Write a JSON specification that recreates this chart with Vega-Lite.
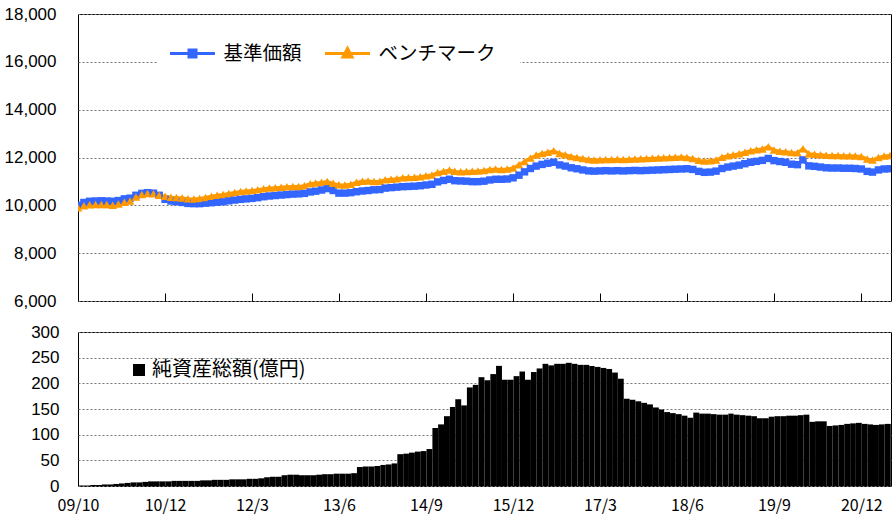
{
  "$schema": "https://vega.github.io/schema/vega-lite/v6.json",
  "background": "white",
  "padding": {"left": 3, "top": 4, "right": 0, "bottom": 0},
  "spacing": 12,
  "data": {"values": [
    {"d":"2009/10/01","基準価額":10000,"ベンチマーク":9900,"純資産総額":1},
    {"d":"2009/11/01","基準価額":10120,"ベンチマーク":9980,"純資産総額":1},
    {"d":"2009/12/01","基準価額":10170,"ベンチマーク":10020,"純資産総額":2},
    {"d":"2010/01/01","基準価額":10180,"ベンチマーク":10030,"純資産総額":2},
    {"d":"2010/02/01","基準価額":10190,"ベンチマーク":10040,"純資産総額":3},
    {"d":"2010/03/01","基準価額":10180,"ベンチマーク":10030,"純資産総額":3},
    {"d":"2010/04/01","基準価額":10170,"ベンチマーク":10000,"純資産総額":4},
    {"d":"2010/05/01","基準価額":10200,"ベンチマーク":10060,"純資産総額":5},
    {"d":"2010/06/01","基準価額":10270,"ベンチマーク":10130,"純資産総額":6},
    {"d":"2010/07/01","基準価額":10300,"ベンチマーク":10180,"純資産総額":7},
    {"d":"2010/08/01","基準価額":10420,"ベンチマーク":10350,"純資産総額":7},
    {"d":"2010/09/01","基準価額":10500,"ベンチマーク":10450,"純資産総額":8},
    {"d":"2010/10/01","基準価額":10530,"ベンチマーク":10490,"純資産総額":9},
    {"d":"2010/11/01","基準価額":10510,"ベンチマーク":10480,"純資産総額":9},
    {"d":"2010/12/01","基準価額":10420,"ベンチマーク":10420,"純資産総額":9},
    {"d":"2011/01/01","基準価額":10250,"ベンチマーク":10380,"純資産総額":9},
    {"d":"2011/02/01","基準価額":10180,"ベンチマーク":10340,"純資産総額":10},
    {"d":"2011/03/01","基準価額":10150,"ベンチマーク":10330,"純資産総額":10},
    {"d":"2011/04/01","基準価額":10120,"ベンチマーク":10310,"純資産総額":10},
    {"d":"2011/05/01","基準価額":10080,"ベンチマーク":10280,"純資産総額":10},
    {"d":"2011/06/01","基準価額":10070,"ベンチマーク":10270,"純資産総額":10},
    {"d":"2011/07/01","基準価額":10070,"ベンチマーク":10290,"純資産総額":11},
    {"d":"2011/08/01","基準価額":10090,"ベンチマーク":10330,"純資産総額":11},
    {"d":"2011/09/01","基準価額":10110,"ベンチマーク":10380,"純資産総額":12},
    {"d":"2011/10/01","基準価額":10130,"ベンチマーク":10420,"純資産総額":12},
    {"d":"2011/11/01","基準価額":10150,"ベンチマーク":10450,"純資産総額":12},
    {"d":"2011/12/01","基準価額":10190,"ベンチマーク":10500,"純資産総額":13},
    {"d":"2012/01/01","基準価額":10220,"ベンチマーク":10540,"純資産総額":13},
    {"d":"2012/02/01","基準価額":10250,"ベンチマーク":10580,"純資産総額":13},
    {"d":"2012/03/01","基準価額":10270,"ベンチマーク":10600,"純資産総額":14},
    {"d":"2012/04/01","基準価額":10290,"ベンチマーク":10620,"純資産総額":14},
    {"d":"2012/05/01","基準価額":10320,"ベンチマーク":10650,"純資産総額":15},
    {"d":"2012/06/01","基準価額":10360,"ベンチマーク":10690,"純資産総額":17},
    {"d":"2012/07/01","基準価額":10390,"ベンチマーク":10720,"純資産総額":18},
    {"d":"2012/08/01","基準価額":10410,"ベンチマーク":10740,"純資産総額":18},
    {"d":"2012/09/01","基準価額":10430,"ベンチマーク":10760,"純資産総額":21},
    {"d":"2012/10/01","基準価額":10450,"ベンチマーク":10780,"純資産総額":22},
    {"d":"2012/11/01","基準価額":10470,"ベンチマーク":10790,"純資産総額":22},
    {"d":"2012/12/01","基準価額":10480,"ベンチマーク":10790,"純資産総額":21},
    {"d":"2013/01/01","基準価額":10500,"ベンチマーク":10820,"純資産総額":21},
    {"d":"2013/02/01","基準価額":10560,"ベンチマーク":10900,"純資産総額":21},
    {"d":"2013/03/01","基準価額":10590,"ベンチマーク":10930,"純資産総額":22},
    {"d":"2013/04/01","基準価額":10640,"ベンチマーク":10960,"純資産総額":23},
    {"d":"2013/05/01","基準価額":10700,"ベンチマーク":11000,"純資産総額":23},
    {"d":"2013/06/01","基準価額":10620,"ベンチマーク":10920,"純資産総額":24},
    {"d":"2013/07/01","基準価額":10510,"ベンチマーク":10860,"純資産総額":24},
    {"d":"2013/08/01","基準価額":10510,"ベンチマーク":10850,"純資産総額":24},
    {"d":"2013/09/01","基準価額":10530,"ベンチマーク":10880,"純資産総額":25},
    {"d":"2013/10/01","基準価額":10570,"ベンチマーク":10960,"純資産総額":37},
    {"d":"2013/11/01","基準価額":10600,"ベンチマーク":11010,"純資産総額":38},
    {"d":"2013/12/01","基準価額":10620,"ベンチマーク":11020,"純資産総額":38},
    {"d":"2014/01/01","基準価額":10650,"ベンチマーク":11000,"純資産総額":39},
    {"d":"2014/02/01","基準価額":10660,"ベンチマーク":11010,"純資産総額":41},
    {"d":"2014/03/01","基準価額":10720,"ベンチマーク":11070,"純資産総額":42},
    {"d":"2014/04/01","基準価額":10740,"ベンチマーク":11090,"純資産総額":44},
    {"d":"2014/05/01","基準価額":10760,"ベンチマーク":11110,"純資産総額":62},
    {"d":"2014/06/01","基準価額":10780,"ベンチマーク":11150,"純資産総額":63},
    {"d":"2014/07/01","基準価額":10790,"ベンチマーク":11160,"純資産総額":65},
    {"d":"2014/08/01","基準価額":10800,"ベンチマーク":11170,"純資産総額":67},
    {"d":"2014/09/01","基準価額":10820,"ベンチマーク":11200,"純資産総額":68},
    {"d":"2014/10/01","基準価額":10850,"ベンチマーク":11240,"純資産総額":72},
    {"d":"2014/11/01","基準価額":10880,"ベンチマーク":11270,"純資産総額":113},
    {"d":"2014/12/01","基準価額":10980,"ベンチマーク":11370,"純資産総額":120},
    {"d":"2015/01/01","基準価額":11040,"ベンチマーク":11420,"純資産総額":136},
    {"d":"2015/02/01","基準価額":11090,"ベンチマーク":11475,"純資産総額":154},
    {"d":"2015/03/01","基準価額":11030,"ベンチマーク":11420,"純資産総額":169},
    {"d":"2015/04/01","基準価額":11020,"ベンチマーク":11400,"純資産総額":157},
    {"d":"2015/05/01","基準価額":11010,"ベンチマーク":11410,"純資産総額":192},
    {"d":"2015/06/01","基準価額":10990,"ベンチマーク":11430,"純資産総額":197},
    {"d":"2015/07/01","基準価額":10990,"ベンチマーク":11440,"純資産総額":212},
    {"d":"2015/08/01","基準価額":11010,"ベンチマーク":11460,"純資産総額":206},
    {"d":"2015/09/01","基準価額":11060,"ベンチマーク":11500,"純資産総額":218},
    {"d":"2015/10/01","基準価額":11090,"ベンチマーク":11520,"純資産総額":234},
    {"d":"2015/11/01","基準価額":11090,"ベンチマーク":11500,"純資産総額":207},
    {"d":"2015/12/01","基準価額":11100,"ベンチマーク":11520,"純資産総額":207},
    {"d":"2016/01/01","基準価額":11150,"ベンチマーク":11560,"純資産総額":214},
    {"d":"2016/02/01","基準価額":11260,"ベンチマーク":11700,"純資産総額":223},
    {"d":"2016/03/01","基準価額":11400,"ベンチマーク":11830,"純資産総額":207},
    {"d":"2016/04/01","基準価額":11540,"ベンチマーク":11980,"純資産総額":222},
    {"d":"2016/05/01","基準価額":11640,"ベンチマーク":12100,"純資産総額":229},
    {"d":"2016/06/01","基準価額":11710,"ベンチマーク":12170,"純資産総額":238},
    {"d":"2016/07/01","基準価額":11760,"ベンチマーク":12220,"純資産総額":235},
    {"d":"2016/08/01","基準価額":11800,"ベンチマーク":12280,"純資産総額":238},
    {"d":"2016/09/01","基準価額":11690,"ベンチマーク":12170,"純資産総額":238},
    {"d":"2016/10/01","基準価額":11640,"ベンチマーク":12120,"純資産総額":240},
    {"d":"2016/11/01","基準価額":11570,"ベンチマーク":12040,"純資産総額":238},
    {"d":"2016/12/01","基準価額":11530,"ベンチマーク":12000,"純資産総額":236},
    {"d":"2017/01/01","基準価額":11480,"ベンチマーク":11960,"純資産総額":236},
    {"d":"2017/02/01","基準価額":11440,"ベンチマーク":11920,"純資産総額":234},
    {"d":"2017/03/01","基準価額":11430,"ベンチマーク":11900,"純資産総額":232},
    {"d":"2017/04/01","基準価額":11440,"ベンチマーク":11910,"純資産総額":230},
    {"d":"2017/05/01","基準価額":11450,"ベンチマーク":11920,"純資産総額":228},
    {"d":"2017/06/01","基準価額":11440,"ベンチマーク":11920,"純資産総額":221},
    {"d":"2017/07/01","基準価額":11450,"ベンチマーク":11930,"純資産総額":209},
    {"d":"2017/08/01","基準価額":11440,"ベンチマーク":11920,"純資産総額":170},
    {"d":"2017/09/01","基準価額":11450,"ベンチマーク":11930,"純資産総額":168},
    {"d":"2017/10/01","基準価額":11460,"ベンチマーク":11940,"純資産総額":165},
    {"d":"2017/11/01","基準価額":11450,"ベンチマーク":11950,"純資産総額":162},
    {"d":"2017/12/01","基準価額":11460,"ベンチマーク":11960,"純資産総額":159},
    {"d":"2018/01/01","基準価額":11470,"ベンチマーク":11970,"純資産総額":153},
    {"d":"2018/02/01","基準価額":11480,"ベンチマーク":11980,"純資産総額":149},
    {"d":"2018/03/01","基準価額":11490,"ベンチマーク":11990,"純資産総額":144},
    {"d":"2018/04/01","基準価額":11500,"ベンチマーク":12000,"純資産総額":142},
    {"d":"2018/05/01","基準価額":11510,"ベンチマーク":12010,"純資産総額":140},
    {"d":"2018/06/01","基準価額":11520,"ベンチマーク":12020,"純資産総額":137},
    {"d":"2018/07/01","基準価額":11530,"ベンチマーク":12000,"純資産総額":133},
    {"d":"2018/08/01","基準価額":11500,"ベンチマーク":11960,"純資産総額":143},
    {"d":"2018/09/01","基準価額":11420,"ベンチマーク":11880,"純資産総額":141},
    {"d":"2018/10/01","基準価額":11380,"ベンチマーク":11850,"純資産総額":141},
    {"d":"2018/11/01","基準価額":11390,"ベンチマーク":11860,"純資産総額":140},
    {"d":"2018/12/01","基準価額":11430,"ベンチマーク":11900,"純資産総額":139},
    {"d":"2019/01/01","基準価額":11540,"ベンチマーク":12010,"純資産総額":139},
    {"d":"2019/02/01","基準価額":11600,"ベンチマーク":12070,"純資産総額":141},
    {"d":"2019/03/01","基準価額":11640,"ベンチマーク":12110,"純資産総額":139},
    {"d":"2019/04/01","基準価額":11680,"ベンチマーク":12160,"純資産総額":138},
    {"d":"2019/05/01","基準価額":11740,"ベンチマーク":12220,"純資産総額":137},
    {"d":"2019/06/01","基準価額":11800,"ベンチマーク":12280,"純資産総額":136},
    {"d":"2019/07/01","基準価額":11840,"ベンチマーク":12320,"純資産総額":132},
    {"d":"2019/08/01","基準価額":11880,"ベンチマーク":12360,"純資産総額":132},
    {"d":"2019/09/01","基準価額":11960,"ベンチマーク":12450,"純資産総額":135},
    {"d":"2019/10/01","基準価額":11870,"ベンチマーク":12310,"純資産総額":136},
    {"d":"2019/11/01","基準価額":11830,"ベンチマーク":12260,"純資産総額":136},
    {"d":"2019/12/01","基準価額":11800,"ベンチマーク":12240,"純資産総額":137},
    {"d":"2020/01/01","基準価額":11720,"ベンチマーク":12210,"純資産総額":137},
    {"d":"2020/02/01","基準価額":11700,"ベンチマーク":12200,"純資産総額":138},
    {"d":"2020/03/01","基準価額":11900,"ベンチマーク":12370,"純資産総額":139},
    {"d":"2020/04/01","基準価額":11650,"ベンチマーク":12160,"純資産総額":125},
    {"d":"2020/05/01","基準価額":11630,"ベンチマーク":12140,"純資産総額":126},
    {"d":"2020/06/01","基準価額":11600,"ベンチマーク":12110,"純資産総額":126},
    {"d":"2020/07/01","基準価額":11570,"ベンチマーク":12090,"純資産総額":117},
    {"d":"2020/08/01","基準価額":11560,"ベンチマーク":12080,"純資産総額":118},
    {"d":"2020/09/01","基準価額":11560,"ベンチマーク":12080,"純資産総額":119},
    {"d":"2020/10/01","基準価額":11550,"ベンチマーク":12070,"純資産総額":121},
    {"d":"2020/11/01","基準価額":11550,"ベンチマーク":12070,"純資産総額":122},
    {"d":"2020/12/01","基準価額":11540,"ベンチマーク":12060,"純資産総額":123},
    {"d":"2021/01/01","基準価額":11520,"ベンチマーク":12040,"純資産総額":121},
    {"d":"2021/02/01","基準価額":11420,"ベンチマーク":11940,"純資産総額":120},
    {"d":"2021/03/01","基準価額":11390,"ベンチマーク":11900,"純資産総額":119},
    {"d":"2021/04/01","基準価額":11480,"ベンチマーク":12000,"純資産総額":120},
    {"d":"2021/05/01","基準価額":11520,"ベンチマーク":12060,"純資産総額":121},
    {"d":"2021/06/01","基準価額":11530,"ベンチマーク":12080,"純資産総額":121}
  ]},
  "config": {
    "view": {"stroke": "#000000", "strokeWidth": 1},
    "axis": {
      "labelFont": "Liberation Sans",
      "labelFontSize": 17,
      "labelColor": "#000000",
      "grid": true,
      "gridColor": "#777777",
      "gridDash": [2, 2],
      "gridWidth": 1,
      "domain": false,
      "ticks": false,
      "title": null,
      "labelOverlap": false
    },
    "legend": {"labelLimit": 400}
  },
  "resolve": {"scale": {"x": "independent", "y": "independent", "color": "independent"}, "legend": {"color": "independent"}},
  "vconcat": [
    {
      "width": 813,
      "height": 287,
      "transform": [{"fold": ["基準価額", "ベンチマーク"], "as": ["s", "v"]}],
      "encoding": {
        "x": {
          "field": "d", "type": "temporal",
          "scale": {"domain": [{"year": 2009, "month": 10, "date": 1}, {"year": 2021, "month": 6, "date": 6}], "nice": false},
          "axis": {
            "values": [{"year":2009,"month":10,"date":1},{"year":2011,"month":1,"date":1},{"year":2012,"month":4,"date":1},{"year":2013,"month":7,"date":1},{"year":2014,"month":10,"date":1},{"year":2016,"month":1,"date":1},{"year":2017,"month":4,"date":1},{"year":2018,"month":7,"date":1},{"year":2019,"month":10,"date":1},{"year":2021,"month":1,"date":1}],
            "labels": false, "grid": false, "ticks": true, "tickSize": -8, "tickColor": "#000000", "tickWidth": 1, "domain": false
          }
        },
        "y": {
          "field": "v", "type": "quantitative",
          "scale": {"domain": [6000, 18000], "nice": false, "zero": false},
          "axis": {"values": [6000, 8000, 10000, 12000, 14000, 16000, 18000], "format": ",.0f", "labelPadding": 22}
        },
        "color": {
          "field": "s", "type": "nominal",
          "scale": {"domain": ["基準価額", "ベンチマーク"], "range": ["#3366FF", "#FF9900"]},
          "legend": {
            "orient": "none", "legendX": 79, "legendY": 4, "direction": "horizontal", "columns": 2,
            "title": null, "symbolSize": 400, "labelFont": "Noto Sans CJK JP", "labelFontSize": 19.5,
            "labelColor": "#000000", "labelOffset": 19.5, "columnPadding": 17, "symbolStrokeWidth": 3,
            "fillColor": "white", "padding": 24,
            "encode": {
              "symbols": {
                "update": {
                  "shape": {"signal": "datum.value === '基準価額' ? 'M-2.25,0H2.25M-0.35,-0.35H0.35V0.35H-0.35Z' : 'M-2.25,0H2.25M0,-0.5L0.45,0.35L-0.45,0.35Z'"},
                  "stroke": {"signal": "datum.value === '基準価額' ? '#3366FF' : '#FF9900'"},
                  "fill": {"signal": "datum.value === '基準価額' ? '#3366FF' : '#FF9900'"},
                  "strokeWidth": {"value": 3},
                  "opacity": {"value": 1}
                }
              }
            }
          }
        }
      },
      "layer": [
        {"mark": {"type": "line", "strokeWidth": 3, "clip": true}},
        {
          "mark": {"type": "point", "filled": true, "opacity": 1, "clip": true},
          "encoding": {
            "shape": {"field": "s", "type": "nominal", "scale": {"domain": ["基準価額", "ベンチマーク"], "range": ["square", "triangle-up"]}, "legend": null},
            "size": {"field": "s", "type": "nominal", "scale": {"domain": ["基準価額", "ベンチマーク"], "range": [55, 75]}, "legend": null}
          }
        }
      ]
    },
    {
      "width": 813,
      "height": 154,
      "mark": {"type": "bar", "clip": true, "binSpacing": 0},
      "encoding": {
        "x": {
          "field": "d", "timeUnit": "yearmonth", "type": "temporal",
          "scale": {"domain": [{"year": 2009, "month": 10, "date": 1}, {"year": 2021, "month": 6, "date": 6}], "nice": false},
          "axis": {
            "values": [{"year":2009,"month":10,"date":1},{"year":2011,"month":1,"date":1},{"year":2012,"month":4,"date":1},{"year":2013,"month":7,"date":1},{"year":2014,"month":10,"date":1},{"year":2016,"month":1,"date":1},{"year":2017,"month":4,"date":1},{"year":2018,"month":7,"date":1},{"year":2019,"month":10,"date":1},{"year":2021,"month":1,"date":1}],
            "labelExpr": "year(datum.value) == 2009 ? '09/10' : timeFormat(datetime(year(datum.value), month(datum.value) - 1, 1), '%y/%-m')",
            "labelFont": "Noto Sans CJK JP", "labelFontSize": 16, "labelFlush": false, "labelPadding": 11,
            "grid": false, "ticks": false, "domain": false
          }
        },
        "y": {
          "field": "純資産総額", "type": "quantitative",
          "scale": {"domain": [0, 300], "nice": false},
          "axis": {"values": [0, 50, 100, 150, 200, 250, 300], "labelPadding": 19}
        },
        "color": {
          "datum": "純資産総額(億円)",
          "scale": {"range": ["#000000"]},
          "legend": {
            "orient": "none", "legendX": 51, "legendY": 28, "title": null,
            "symbolType": "square", "symbolSize": 144, "labelFont": "Noto Sans CJK JP", "labelFontSize": 20,
            "labelColor": "#000000", "labelOffset": 3, "symbolStrokeWidth": 0
          }
        }
      }
    }
  ]
}
